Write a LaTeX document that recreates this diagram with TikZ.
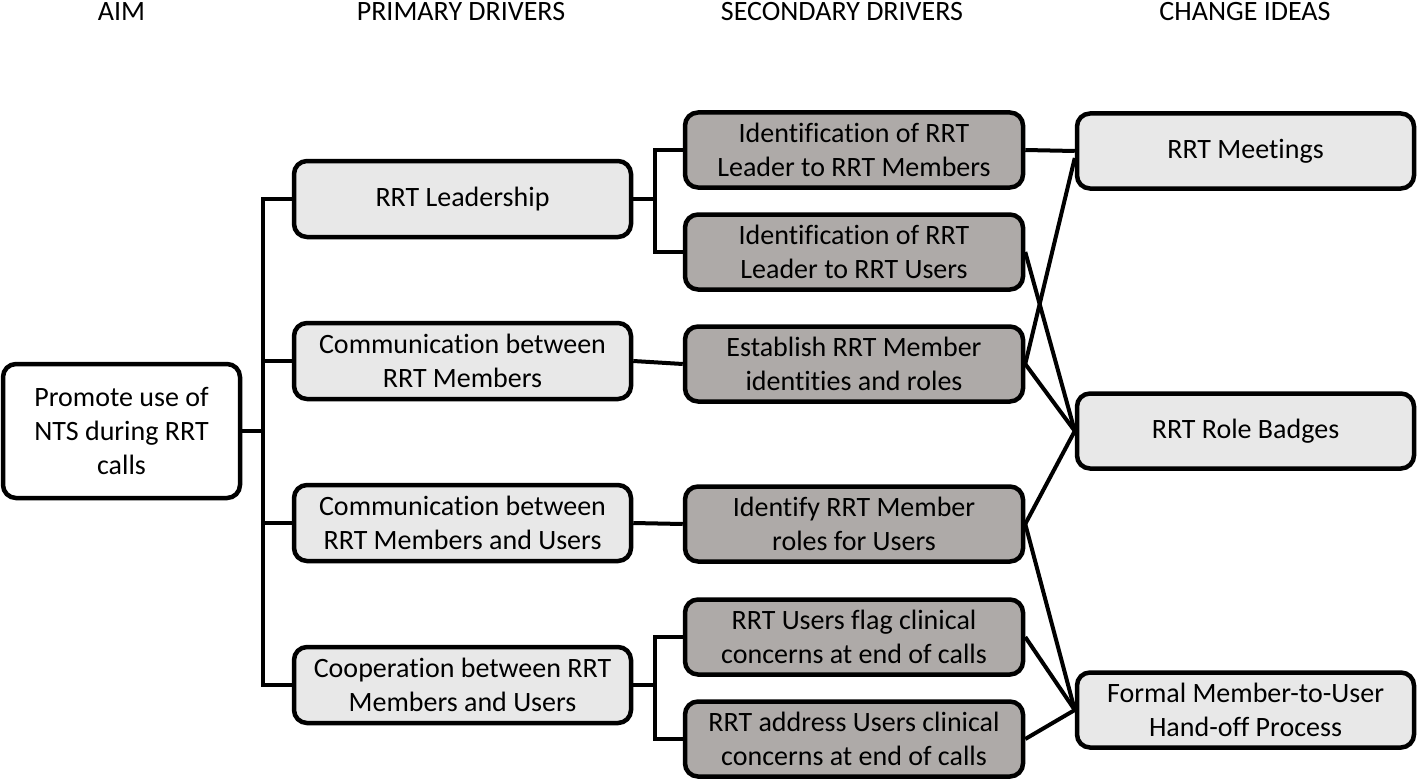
\documentclass[tikz,border=0pt]{standalone}
\usepackage{fontspec}
\setmainfont{Carlito}[Ligatures=NoCommon]
\begin{document}
\begin{tikzpicture}[x=1pt,y=-1pt,
  box/.style={draw=black, line width=4.5pt, rounded corners=13pt, align=center, inner sep=0pt,
    font=\fontsize{28}{34}\selectfont, text=black},
  prim/.style={box, fill=boxlight, minimum width=337pt, minimum height=76pt},
  sec/.style={box, fill=boxdark, minimum width=338pt, minimum height=75pt},
  chg/.style={box, fill=boxlight, minimum width=337pt, minimum height=75pt},
  hdr/.style={font=\fontsize{28}{30}\selectfont, inner sep=0pt, anchor=base},
  conn/.style={line width=4pt, line join=miter}]
\definecolor{boxlight}{RGB}{232,232,232}
\definecolor{boxdark}{RGB}{174,170,168}
\useasboundingbox (0,0) rectangle (1418,781);
% headers
\node[hdr] (h1) at (121.5,21) {AIM};
\node[hdr] (h2) at (461,21) {PRIMARY DRIVERS};
\node[hdr] (h3) at (842,21) {SECONDARY DRIVERS};
\node[hdr] (h4) at (1245,21) {CHANGE IDEAS};
% aim
\node[box, fill=white, minimum width=237pt, minimum height=134pt] (A) at (121.5,431) {Promote use of\\NTS during RRT\\calls};
% primary
\node[prim] (P1) at (462.5,199) {RRT Leadership};
\node[prim] (P2) at (462.5,361) {Communication between\\RRT Members};
\node[prim] (P3) at (462.5,523) {Communication between\\RRT Members and Users};
\node[prim] (P4) at (462.5,685) {Cooperation between RRT\\Members and Users};
% secondary
\node[sec] (S1) at (854,150) {Identification of RRT\\Leader to RRT Members};
\node[sec] (S2) at (854,252) {Identification of RRT\\Leader to RRT Users};
\node[sec] (S3) at (854,364) {Establish RRT Member\\identities and roles};
\node[sec] (S4) at (854,524) {Identify RRT Member\\roles for Users};
\node[sec] (S5) at (854,637) {RRT Users flag clinical\\concerns at end of calls};
\node[sec] (S6) at (854,739) {RRT address Users clinical\\concerns at end of calls};
% change ideas
\node[chg] (C1) at (1245.5,151) {RRT Meetings};
\node[chg] (C2) at (1245.5,431) {RRT Role Badges};
\node[chg] (C3) at (1245.5,710) {Formal Member-to-User\\Hand-off Process};
% junctions
\coordinate (b1) at (263,431);
\coordinate (b2) at (655,199);
\coordinate (b3) at (655,685);
\draw[conn] (A.east) -- (b1);
\draw[conn] (P1.west) -| (b1);
\draw[conn] (P4.west) -| (b1);
\draw[conn] (P2.west) -- (P2.west -| b1);
\draw[conn] (P3.west) -- (P3.west -| b1);
\draw[conn] (P1.east) -- (b2);
\draw[conn] (S1.west) -| (b2);
\draw[conn] (S2.west) -| (b2);
\draw[conn] (P4.east) -- (b3);
\draw[conn] (S5.west) -| (b3);
\draw[conn] (S6.west) -| (b3);
\draw[conn] (P2.east) -- (S3.west);
\draw[conn] (P3.east) -- (S4.west);
\draw[conn] (S1.east) -- (C1.west);
\draw[conn] (S3.east) -- ([yshift=-7pt]C1.west);
\draw[conn] (S2.east) -- (C2.west);
\draw[conn] (S3.east) -- (C2.west);
\draw[conn] (S4.east) -- (C2.west);
\draw[conn] (S4.east) -- (C3.west);
\draw[conn] (S5.east) -- (C3.west);
\draw[conn] (S6.east) -- (C3.west);
\end{tikzpicture}
\end{document}
